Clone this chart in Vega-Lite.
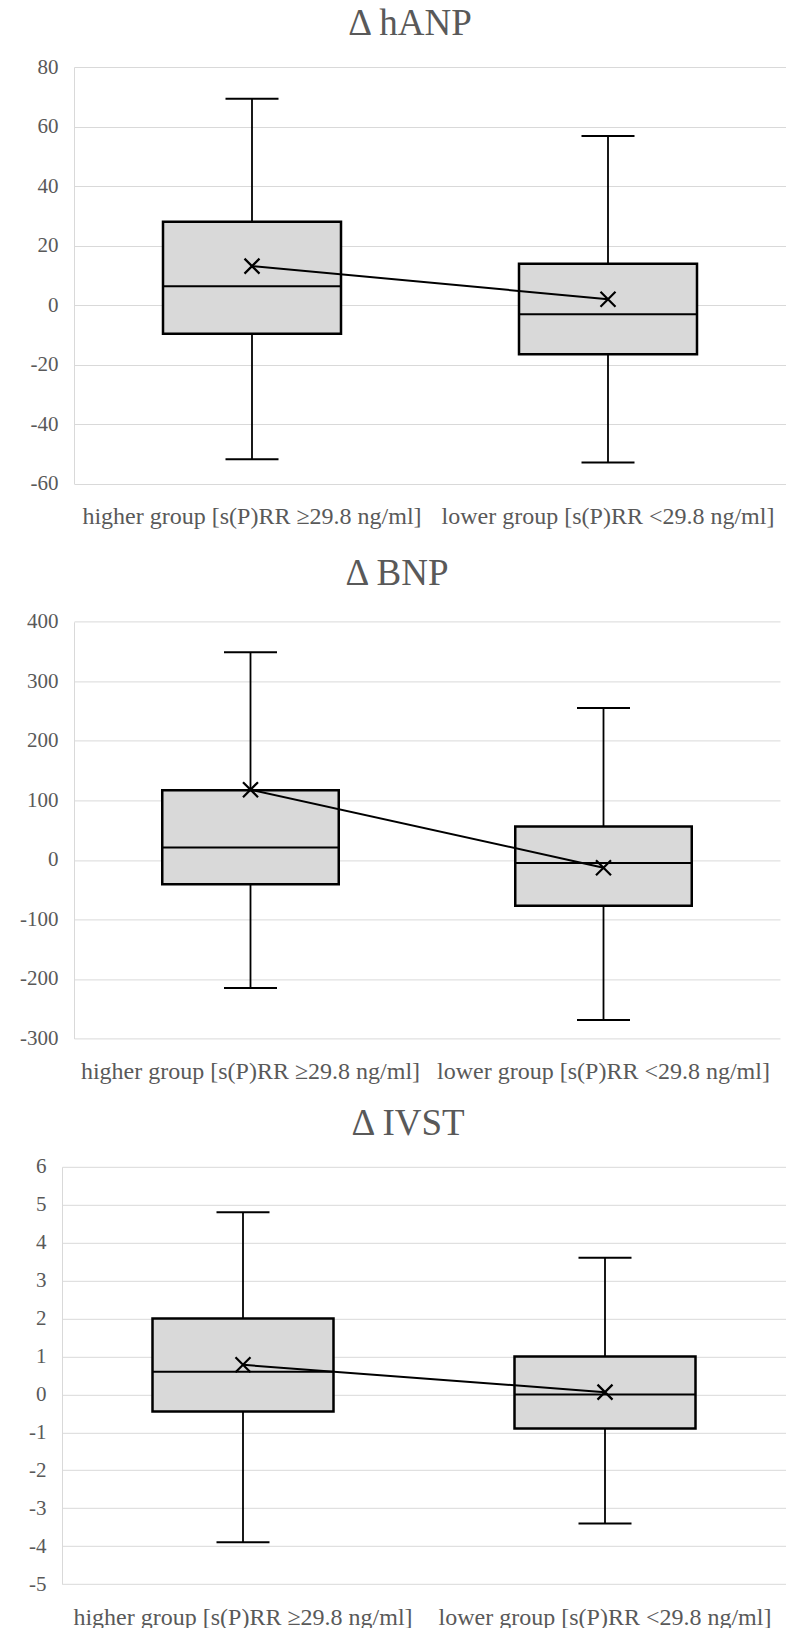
{
  "$schema": "https://vega.github.io/schema/vega-lite/v6.json",
  "background": "white",
  "padding": {"left": 0, "top": 5, "right": 0, "bottom": 0},
  "bounds": "flush",
  "spacing": 127.4,
  "config": {
    "view": {"stroke": null},
    "font": "Liberation Serif",
    "tick": {"opacity": 1},
    "title": {"font": "Liberation Serif", "fontSize": 37, "fontWeight": "normal", "color": "#595959", "frame": "group", "anchor": "middle", "baseline": "alphabetic"},
    "axisX": {"title": null, "labelAngle": 0, "labelFont": "Liberation Serif", "labelFontSize": 24, "labelColor": "#595959", "labelPadding": 40, "labelBaseline": "alphabetic", "ticks": false, "tickSize": 0, "domain": false, "grid": false, "labelLimit": 0},
    "axisY": {"title": null, "grid": true, "gridColor": "#d9d9d9", "gridWidth": 1, "domain": true, "domainColor": "#d9d9d9", "domainWidth": 1, "ticks": false, "tickSize": 0, "tickCount": 30, "labelPadding": 16, "labelFont": "Liberation Serif", "labelFontSize": 21, "labelColor": "#595959", "labelOverlap": false, "labelExpr": "'' + datum.value"}
  },
  "datasets": {
    "hanp": [
      {"group": "higher group [s(P)RR ≥29.8 ng/ml]", "min": -51.8, "q1": -9.6, "median": 6.3, "q3": 28, "max": 69.3, "mean": 13.1},
      {"group": "lower group [s(P)RR <29.8 ng/ml]", "min": -52.9, "q1": -16.5, "median": -3.1, "q3": 13.9, "max": 56.8, "mean": 2.0}
    ],
    "bnp": [
      {"group": "higher group [s(P)RR ≥29.8 ng/ml]", "min": -215, "q1": -41, "median": 21, "q3": 117, "max": 349, "mean": 118},
      {"group": "lower group [s(P)RR <29.8 ng/ml]", "min": -269, "q1": -77, "median": -5, "q3": 56, "max": 255, "mean": -13}
    ],
    "ivst": [
      {"group": "higher group [s(P)RR ≥29.8 ng/ml]", "min": -3.9, "q1": -0.45, "median": 0.6, "q3": 2.0, "max": 4.8, "mean": 0.78},
      {"group": "lower group [s(P)RR <29.8 ng/ml]", "min": -3.4, "q1": -0.9, "median": 0.0, "q3": 1.0, "max": 3.6, "mean": 0.06}
    ]
  },
  "vconcat": [
    {
      "title": {"text": "Δ hANP", "dx": -14, "offset": 13},
      "width": 724,
      "height": 416.7,
      "data": {"name": "hanp"},
      "encoding": {
        "x": {"field": "group", "type": "nominal", "sort": null, "scale": {"range": [12, 724], "paddingInner": 0, "paddingOuter": 0}}
      },
      "layer": [
        {"mark": {"type": "rule", "color": "black", "strokeWidth": 1.8},
         "encoding": {"y": {"field": "min", "type": "quantitative", "scale": {"domain": [-60, 80], "nice": false, "zero": false}, "axis": {"values": [-60, -40, -20, 0, 20, 40, 60, 80], "offset": -12}}, "y2": {"field": "max"}}},
        {"mark": {"type": "tick", "color": "black", "thickness": 2, "size": 53}, "encoding": {"y": {"field": "min", "type": "quantitative"}}},
        {"mark": {"type": "tick", "color": "black", "thickness": 2, "size": 53}, "encoding": {"y": {"field": "max", "type": "quantitative"}}},
        {"mark": {"type": "bar", "fill": "#d9d9d9", "stroke": "black", "strokeWidth": 2.5, "width": {"band": 0.5}},
         "encoding": {"y": {"field": "q1", "type": "quantitative"}, "y2": {"field": "q3"}}},
        {"mark": {"type": "tick", "color": "black", "thickness": 2, "size": 178}, "encoding": {"y": {"field": "median", "type": "quantitative"}}},
        {"mark": {"type": "line", "color": "black", "strokeWidth": 2}, "encoding": {"y": {"field": "mean", "type": "quantitative"}}},
        {"mark": {"type": "point", "shape": "M-1,-1L1,1M-1,1L1,-1", "filled": false, "stroke": "black", "strokeWidth": 2.2, "size": 225, "opacity": 1}, "encoding": {"y": {"field": "mean", "type": "quantitative"}}}
      ]
    },
    {
      "title": {"text": "Δ BNP", "dx": -27, "offset": 18},
      "width": 724,
      "height": 427.1,
      "data": {"name": "bnp"},
      "encoding": {
        "x": {"field": "group", "type": "nominal", "sort": null, "scale": {"range": [12, 718], "paddingInner": 0, "paddingOuter": 0}}
      },
      "layer": [
        {"mark": {"type": "rule", "color": "black", "strokeWidth": 1.8},
         "encoding": {"y": {"field": "min", "type": "quantitative", "scale": {"domain": [-300, 400], "nice": false, "zero": false, "range": [427.1, 10.4]}, "axis": {"values": [-300, -200, -100, 0, 100, 200, 300, 400], "offset": -12}}, "y2": {"field": "max"}}},
        {"mark": {"type": "tick", "color": "black", "thickness": 2, "size": 53}, "encoding": {"y": {"field": "min", "type": "quantitative"}}},
        {"mark": {"type": "tick", "color": "black", "thickness": 2, "size": 53}, "encoding": {"y": {"field": "max", "type": "quantitative"}}},
        {"mark": {"type": "bar", "fill": "#d9d9d9", "stroke": "black", "strokeWidth": 2.5, "width": {"band": 0.5}},
         "encoding": {"y": {"field": "q1", "type": "quantitative"}, "y2": {"field": "q3"}}},
        {"mark": {"type": "tick", "color": "black", "thickness": 2, "size": 176.5}, "encoding": {"y": {"field": "median", "type": "quantitative"}}},
        {"mark": {"type": "line", "color": "black", "strokeWidth": 2}, "encoding": {"y": {"field": "mean", "type": "quantitative"}}},
        {"mark": {"type": "point", "shape": "M-1,-1L1,1M-1,1L1,-1", "filled": false, "stroke": "black", "strokeWidth": 2.2, "size": 225, "opacity": 1}, "encoding": {"y": {"field": "mean", "type": "quantitative"}}}
      ]
    },
    {
      "title": {"text": "Δ IVST", "dx": -16, "offset": 13},
      "width": 724,
      "height": 417.3,
      "data": {"name": "ivst"},
      "encoding": {
        "x": {"field": "group", "type": "nominal", "sort": null, "scale": {"paddingInner": 0, "paddingOuter": 0}}
      },
      "layer": [
        {"mark": {"type": "rule", "color": "black", "strokeWidth": 1.8},
         "encoding": {"y": {"field": "min", "type": "quantitative", "scale": {"domain": [-5, 6], "nice": false, "zero": false}, "axis": {"values": [-5, -4, -3, -2, -1, 0, 1, 2, 3, 4, 5, 6], "minExtent": 62, "maxExtent": 62}}, "y2": {"field": "max"}}},
        {"mark": {"type": "tick", "color": "black", "thickness": 2, "size": 53}, "encoding": {"y": {"field": "min", "type": "quantitative"}}},
        {"mark": {"type": "tick", "color": "black", "thickness": 2, "size": 53}, "encoding": {"y": {"field": "max", "type": "quantitative"}}},
        {"mark": {"type": "bar", "fill": "#d9d9d9", "stroke": "black", "strokeWidth": 2.5, "width": {"band": 0.5}},
         "encoding": {"y": {"field": "q1", "type": "quantitative"}, "y2": {"field": "q3"}}},
        {"mark": {"type": "tick", "color": "black", "thickness": 2, "size": 181}, "encoding": {"y": {"field": "median", "type": "quantitative"}}},
        {"mark": {"type": "line", "color": "black", "strokeWidth": 2}, "encoding": {"y": {"field": "mean", "type": "quantitative"}}},
        {"mark": {"type": "point", "shape": "M-1,-1L1,1M-1,1L1,-1", "filled": false, "stroke": "black", "strokeWidth": 2.2, "size": 225, "opacity": 1}, "encoding": {"y": {"field": "mean", "type": "quantitative"}}}
      ]
    }
  ]
}
